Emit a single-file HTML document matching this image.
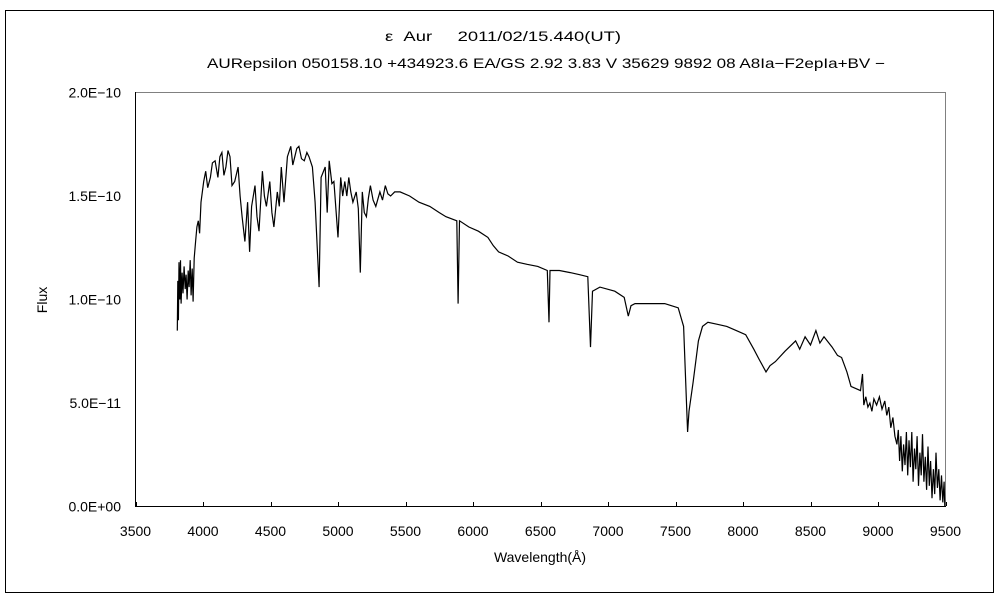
<!DOCTYPE html>
<html><head><meta charset="utf-8"><style>
body{margin:0;background:#fff;}
svg text{font-family:"Liberation Sans","Noto Sans CJK JP",sans-serif;font-size:14px;fill:#000;}
</style></head><body>
<svg id="chart" width="1000" height="600" xmlns="http://www.w3.org/2000/svg">
<rect x="5.5" y="10.5" width="988" height="582" fill="#fff" stroke="#000"/>
<text x="385" y="41" textLength="236" lengthAdjust="spacingAndGlyphs" xml:space="preserve">ε  Aur     2011/02/15.440(UT)</text>
<text x="207" y="68" textLength="678" lengthAdjust="spacingAndGlyphs">AURepsilon 050158.10 +434923.6 EA/GS 2.92 3.83 V 35629 9892 08 A8Ia−F2epIa+BV −</text>
<rect x="135.5" y="92.5" width="810" height="414" fill="#fff" stroke="#808080"/>
<line x1="135" y1="506.5" x2="946" y2="506.5" stroke="#000"/>
<line x1="135.5" y1="92" x2="135.5" y2="507" stroke="#000"/>
<g id="yticks"></g><g id="xticks"></g>
<text transform="translate(47,300) rotate(-90)" text-anchor="middle">Flux</text>
<text x="540" y="562" text-anchor="middle">Wavelength(Å)</text>
<path id="spec" fill="none" stroke="#000" stroke-width="1.2"/>
</svg>
<script>
const wavelengths=[3810,3813,3818,3822,3828,3833,3838,3845,3852,3860,3868,3875,3882,3890,3897,3905,3912,3920,3927,3935,3945,3955,3965,3975,3985,4005,4020,4035,4055,4070,4090,4110,4125,4140,4155,4170,4185,4200,4215,4235,4260,4275,4290,4310,4330,4345,4360,4385,4400,4415,4440,4455,4470,4495,4510,4525,4550,4565,4580,4600,4625,4650,4665,4680,4695,4710,4730,4750,4770,4785,4810,4830,4860,4875,4905,4920,4935,4955,4970,5000,5020,5035,5050,5065,5080,5095,5110,5135,5150,5165,5180,5195,5210,5225,5240,5260,5280,5310,5330,5350,5370,5390,5420,5460,5530,5600,5680,5750,5800,5880,5890,5900,5970,6040,6110,6150,6190,6260,6330,6400,6480,6550,6563,6570,6640,6720,6790,6850,6870,6885,6940,7050,7120,7150,7170,7200,7270,7350,7420,7470,7520,7560,7590,7600,7630,7670,7700,7740,7810,7880,7950,8020,8080,8120,8170,8200,8240,8310,8390,8420,8460,8500,8540,8570,8600,8660,8700,8730,8770,8800,8870,8885,8895,8910,8925,8940,8955,8970,8990,9010,9030,9050,9065,9080,9095,9110,9125,9140,9150,9160,9170,9180,9190,9200,9210,9220,9230,9240,9250,9260,9270,9280,9290,9300,9310,9320,9330,9340,9350,9360,9370,9380,9390,9400,9410,9420,9430,9440,9450,9460,9470,9480,9490,9495];
const fluxE11=[8.5,10.9,9.0,11.8,10.0,11.9,9.8,11.3,10.3,11.6,10.5,11.2,10.0,11.4,10.6,11.9,10.2,11.5,9.9,12.0,12.8,13.5,13.8,13.2,14.7,15.7,16.2,15.4,15.9,16.6,16.7,15.9,16.9,17.1,16.0,16.4,17.2,16.9,15.5,15.7,16.4,15.0,14.0,12.8,14.7,12.3,14.5,15.5,14.0,13.3,16.2,15.0,14.5,15.7,14.2,13.5,15.2,14.5,16.4,14.7,16.9,17.4,16.5,16.9,17.3,17.4,16.8,16.7,17.1,16.9,16.4,14.7,10.6,15.9,16.4,14.2,16.7,15.6,15.7,13.0,15.9,15.0,15.7,15.0,15.9,15.2,14.7,15.2,14.4,11.3,15.2,14.2,14.0,14.9,15.5,14.8,14.5,15.2,14.8,15.5,15.1,15.0,15.2,15.2,15.0,14.7,14.5,14.2,14.0,13.8,9.8,13.8,13.5,13.3,13.0,12.6,12.3,12.1,11.8,11.7,11.6,11.4,8.9,11.4,11.4,11.3,11.2,11.1,7.7,10.4,10.6,10.4,10.1,9.2,9.7,9.8,9.8,9.8,9.8,9.7,9.6,8.7,3.6,4.6,6.0,8.0,8.7,8.9,8.8,8.7,8.5,8.3,7.6,7.1,6.5,6.8,7.0,7.5,8.0,7.6,8.2,7.8,8.5,7.9,8.2,7.7,7.3,7.2,6.5,5.8,5.6,6.4,4.9,5.3,4.8,5.0,4.6,5.2,4.9,5.3,4.7,5.1,4.4,4.8,3.8,4.3,3.4,3.0,3.7,2.2,3.4,1.7,3.0,2.0,3.6,1.5,3.2,1.9,3.6,1.2,2.8,1.8,3.4,1.0,2.6,1.5,3.5,1.2,2.4,0.8,2.9,1.0,2.2,0.4,1.8,0.6,2.6,0.9,1.8,0.3,1.5,0.2,1.2,0.0];
const yTickLabels=["0.0E+00","5.0E−11","1.0E−10","1.5E−10","2.0E−10"];
const yTickValues=[0,5,10,15,20];
const xTickValues=[3500,4000,4500,5000,5500,6000,6500,7000,7500,8000,8500,9000,9500];
const X0=135.5,X1=945.5,Y0=506.5,Y1=92.5;
function xs(w){return X0+(w-3500)/6000*(X1-X0);}
function ys(f){return Y0-f/20*(Y0-Y1);}
const NS="http://www.w3.org/2000/svg";
const yg=document.getElementById('yticks');
yTickValues.forEach((v,i)=>{
 const t=document.createElementNS(NS,'text');
 t.setAttribute('x',121);t.setAttribute('y',ys(v)+5);t.setAttribute('text-anchor','end');
 t.textContent=yTickLabels[i];
 
 
 yg.appendChild(t);
});
const xg=document.getElementById('xticks');
xTickValues.forEach(v=>{
 const t=document.createElementNS(NS,'text');
 t.setAttribute('x',xs(v));t.setAttribute('y',536);t.setAttribute('text-anchor','middle');
 t.textContent=v;
 
 
 xg.appendChild(t);
 const l=document.createElementNS(NS,'line');
 const px=Math.round(xs(v))+0.5;
 l.setAttribute('x1',px);l.setAttribute('x2',px);l.setAttribute('y1',506);l.setAttribute('y2',502);
 l.setAttribute('stroke','#000');
 
 
 xg.appendChild(l);
});
let d='';
wavelengths.forEach((w,i)=>{d+=(i?'L':'M')+xs(w).toFixed(1)+' '+ys(fluxE11[i]).toFixed(1);});
document.getElementById('spec').setAttribute('d',d);
</script>
</body></html>
